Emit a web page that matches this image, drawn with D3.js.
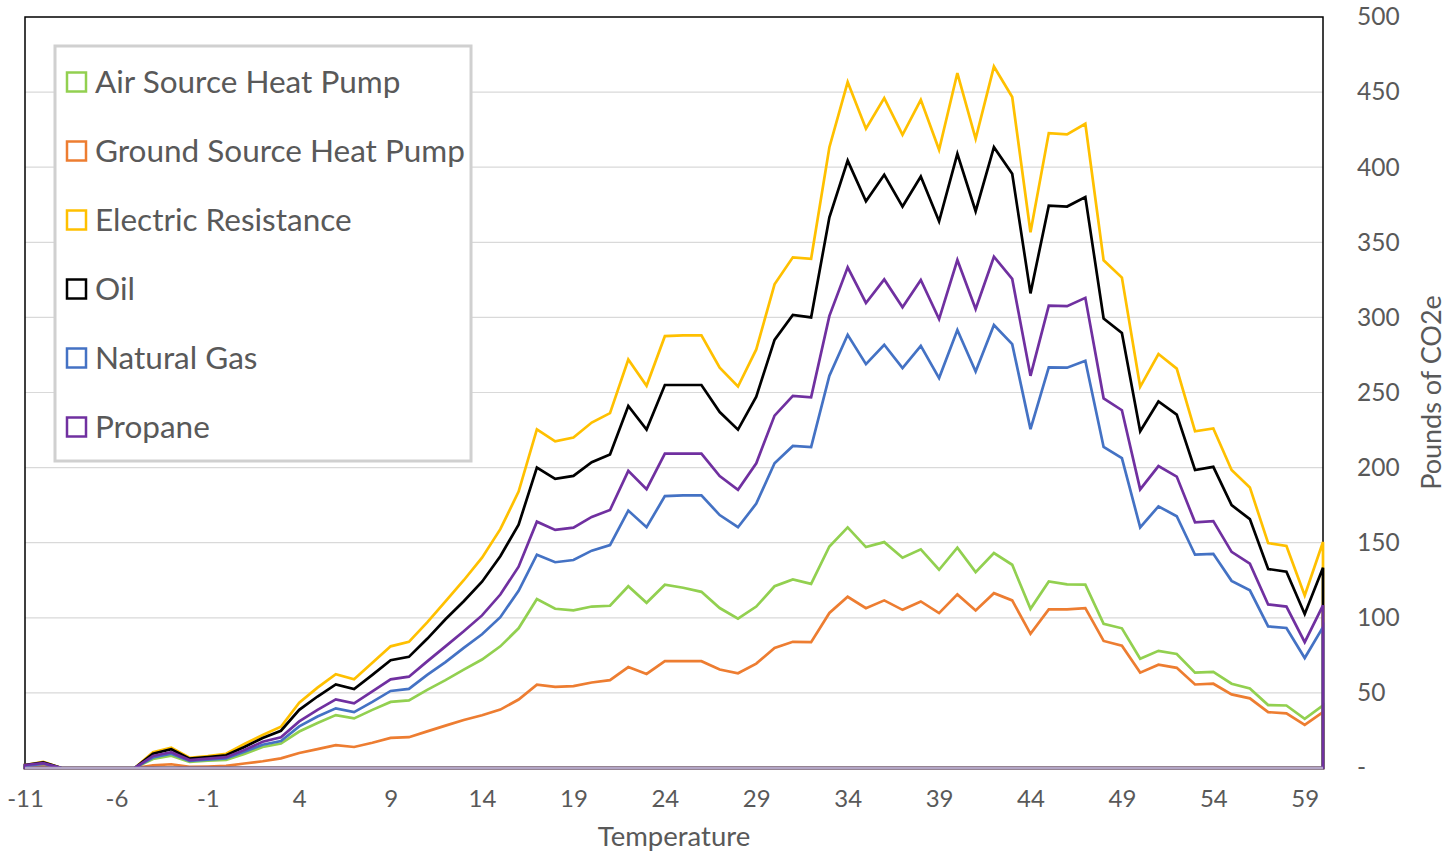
<!DOCTYPE html>
<html>
<head>
<meta charset="utf-8">
<script src="https://cdn.jsdelivr.net/npm/d3@7"></script>
<style>
  body { margin: 0; background: #fff; }
  text { font-family: Lato, "Open Sans", sans-serif; fill: #595959; }
</style>
</head>
<body>
<div id="chart"></div>
<script>
// temperatures -11 .. 60
const temps = d3.range(-11, 61);
const xTicks = [-11, -6, -1, 4, 9, 14, 19, 24, 29, 34, 39, 44, 49, 54, 59];
const yTicks = [0, 50, 100, 150, 200, 250, 300, 350, 400, 450, 500];

const seriesNames = ["Air Source Heat Pump", "Ground Source Heat Pump", "Electric Resistance", "Oil", "Natural Gas", "Propane"];
const seriesColors = ["#92d050", "#ed7d31", "#ffc000", "#000000", "#4472c4", "#7030a0"];

const airSource = [1.2, 2.4, 0, 0, 0, 0, 0, 6, 8.2, 4, 4.9, 5.4, 9.4, 14, 16.3, 24.3, 30, 35.2, 33, 38.7,
  44, 45, 52, 58.5, 65.5, 72.2, 81, 93, 112.5, 106, 105, 107.5, 108, 121, 110, 122, 120, 117.3, 106.5, 99.5,
  107.5, 121, 125.5, 122.6, 147.5, 160.2, 147.1, 150.4, 140, 145.6, 132, 146.7, 130.4, 143.1, 135.3, 106, 124.2, 122.2, 122.1, 96,
  93, 72.7, 78, 75.9, 63.5, 64, 56.1, 53, 41.9, 41.6, 32.7, 41.6];
const groundSource = [0.5, 1, 0, 0, 0, 0, 0, 1.8, 2.5, 0.8, 1, 1.4, 3, 4.5, 6.4, 10, 12.6, 15.2, 14, 16.8,
  20, 20.5, 24.4, 28.2, 32, 35.1, 38.9, 45.6, 55.5, 54, 54.5, 56.9, 58.5, 67.2, 62.6, 71.1, 71.1, 71.1, 65.6, 63.1,
  69.5, 79.9, 84, 83.8, 103.2, 114, 106.4, 111.6, 105.3, 110.9, 103.1, 115.6, 104.9, 116.4, 111.6, 89.3, 105.6, 105.6, 106.5, 84.6,
  81.4, 63.5, 68.8, 66.7, 55.6, 56.1, 49, 46.4, 37.2, 36.4, 28.7, 37.2];
const electric = [2, 4, 0, 0, 0, 0, 0, 10.5, 13.5, 6.8, 8, 9.5, 16, 22, 27.5, 43.5, 53.5, 62.5, 59.1, 70,
  81, 84, 97, 111, 125, 140, 159, 184, 225.5, 217.5, 220, 230, 236.3, 272, 254.5, 287.5, 288, 288, 266.5, 254,
  278.7, 322, 340, 339, 413.3, 456.7, 425.6, 446, 421.6, 444.9, 411.6, 462.7, 418.9, 467, 446.7, 356.7, 422.7, 421.8, 428.9, 338,
  326.5, 253.8, 275.6, 265.9, 224.2, 226.1, 198.4, 186.8, 149.7, 147.8, 114.9, 150.5];
const oil = [2, 3.8, 0, 0, 0, 0, 0, 9.5, 12.5, 6.2, 7.3, 8.5, 14, 20, 24.8, 38.7, 47.6, 55.6, 52.5, 62,
  71.8, 74, 86, 99, 111, 124, 141, 162, 200, 192.5, 194.5, 203.6, 208.8, 241, 225.3, 255, 255, 255, 237, 225.3,
  247.2, 285, 301.7, 300, 366.7, 404.4, 377.3, 395, 373.8, 393.8, 364, 408.9, 370.7, 413.3, 395.6, 316, 374.4, 373.8, 380.1, 299.3,
  289.6, 224.2, 244, 235.3, 198.4, 200.5, 175, 165.7, 132.5, 130.7, 102.5, 133.3];
const naturalGas = [1.5, 2.8, 0, 0, 0, 0, 0, 7, 9.5, 4.7, 5.6, 6.4, 10.8, 15.5, 18, 27.7, 34.3, 39.7, 37.2, 44,
  51.3, 52.7, 62, 70.5, 80, 89, 100.4, 118, 142, 137, 138.5, 144.7, 148.4, 171.4, 160.3, 181, 181.5, 181.5, 168.4, 160.3,
  176, 202.9, 214.4, 213.7, 261.2, 288.4, 268.9, 281.8, 266.2, 281.1, 259.6, 291.6, 264, 294.9, 282.2, 225.6, 266.7, 266.5, 271.1, 213.7,
  206.3, 160.2, 174.2, 167.6, 142, 142.6, 124.6, 118.3, 94.3, 93.2, 73.2, 93.8];
const propane = [2, 3.2, 0, 0, 0, 0, 0, 8, 10.5, 5.3, 6.2, 7.2, 12, 17.5, 20.5, 31, 38.7, 45.7, 43, 51,
  59, 60.8, 71, 81, 91, 101.6, 115.5, 134, 164, 158.5, 160, 167.2, 171.8, 197.8, 185.6, 209.3, 209.3, 209.3, 194.4, 185.2,
  202.9, 234.6, 247.7, 246.8, 301, 333.3, 309.6, 325.3, 306.7, 324.9, 298.9, 338.2, 305.6, 340.4, 325.6, 261.1, 307.8, 307.5, 313, 246.1,
  238.2, 185.5, 201, 194, 163.6, 164.4, 143.9, 136, 108.9, 107.5, 83.8, 108.3];

const seriesValues = [airSource, groundSource, electric, oil, naturalGas, propane];

const width = 1453, height = 852;
const plot = { left: 25, right: 1323, top: 17, bottom: 768 };

const svg = d3.select("#chart").append("svg")
    .attr("width", width)
    .attr("height", height);

const x = d3.scaleLinear().domain([-11, 60]).range([plot.left, plot.right]);
const y = d3.scaleLinear().domain([0, 500]).range([plot.bottom, plot.top]);

// gridlines
svg.append("g")
    .selectAll("line")
    .data(yTicks.filter(d => d > 0 && d < 500))
    .enter().append("line")
    .attr("x1", plot.left).attr("x2", plot.right)
    .attr("y1", d => y(d)).attr("y2", d => y(d))
    .attr("stroke", "#d9d9d9")
    .attr("stroke-width", 1.2);

// area outlines, no fill (excel area chart look)
const area = d3.area()
    .x((d, i) => x(temps[i]))
    .y0(y(0))
    .y1(d => y(d));

// plot border
svg.append("rect")
    .attr("x", plot.left).attr("y", plot.top)
    .attr("width", plot.right - plot.left).attr("height", plot.bottom - plot.top)
    .attr("fill", "none")
    .attr("stroke", "#000")
    .attr("stroke-width", 1.5);

seriesValues.forEach((vals, i) => {
    svg.append("path")
        .datum(vals)
        .attr("d", area)
        .attr("fill", "none")
        .attr("stroke", seriesColors[i])
        .attr("stroke-width", 2.7)
        .attr("stroke-linejoin", "miter");
});

// baseline
svg.append("line")
    .attr("x1", plot.left).attr("x2", plot.right)
    .attr("y1", plot.bottom).attr("y2", plot.bottom)
    .attr("stroke", "#b3a6c6")
    .attr("stroke-width", 2.5);

// y axis on the right
const yAxis = svg.append("g")
    .attr("transform", `translate(${plot.right + 34},0)`)
    .call(d3.axisRight(y).tickValues(yTicks).tickSize(0).tickPadding(0)
        .tickFormat(d => d === 0 ? "-" : d));
yAxis.select(".domain").remove();
yAxis.selectAll("text")
    .attr("font-size", 24.5)
    .attr("font-family", "Lato, sans-serif")
    .attr("fill", "#595959");

svg.append("text")
    .attr("transform", `translate(1441,${(plot.top + plot.bottom) / 2}) rotate(-90)`)
    .attr("text-anchor", "middle")
    .attr("font-size", 27)
    .text("Pounds of CO2e");

// x axis
const xAxis = svg.append("g")
    .attr("transform", `translate(0,${plot.bottom + 22})`)
    .call(d3.axisBottom(x).tickValues(xTicks).tickSize(0).tickPadding(0)
        .tickFormat(d => d));
xAxis.select(".domain").remove();
xAxis.selectAll("text")
    .attr("font-size", 24)
    .attr("font-family", "Lato, sans-serif")
    .attr("fill", "#595959");

svg.append("text")
    .attr("x", (plot.left + plot.right) / 2)
    .attr("y", 846)
    .attr("text-anchor", "middle")
    .attr("font-size", 27.5)
    .text("Temperature");

// legend
const legend = svg.append("g");
legend.append("rect")
    .attr("x", 55).attr("y", 46)
    .attr("width", 416).attr("height", 415)
    .attr("fill", "#fff")
    .attr("stroke", "#d0d0d0")
    .attr("stroke-width", 3);

const items = legend.selectAll("g.item")
    .data(seriesNames)
    .enter().append("g")
    .attr("class", "item")
    .attr("transform", (d, i) => `translate(66,${82 + i * 69})`);

items.append("rect")
    .attr("x", 1).attr("y", -9.5)
    .attr("width", 19).attr("height", 19)
    .attr("fill", "#fff")
    .attr("stroke", (d, i) => seriesColors[i])
    .attr("stroke-width", 2.5);

items.append("text")
    .attr("x", 29)
    .attr("dy", "0.36em")
    .attr("font-size", 31.5)
    .text(d => d);
</script>
</body>
</html>
